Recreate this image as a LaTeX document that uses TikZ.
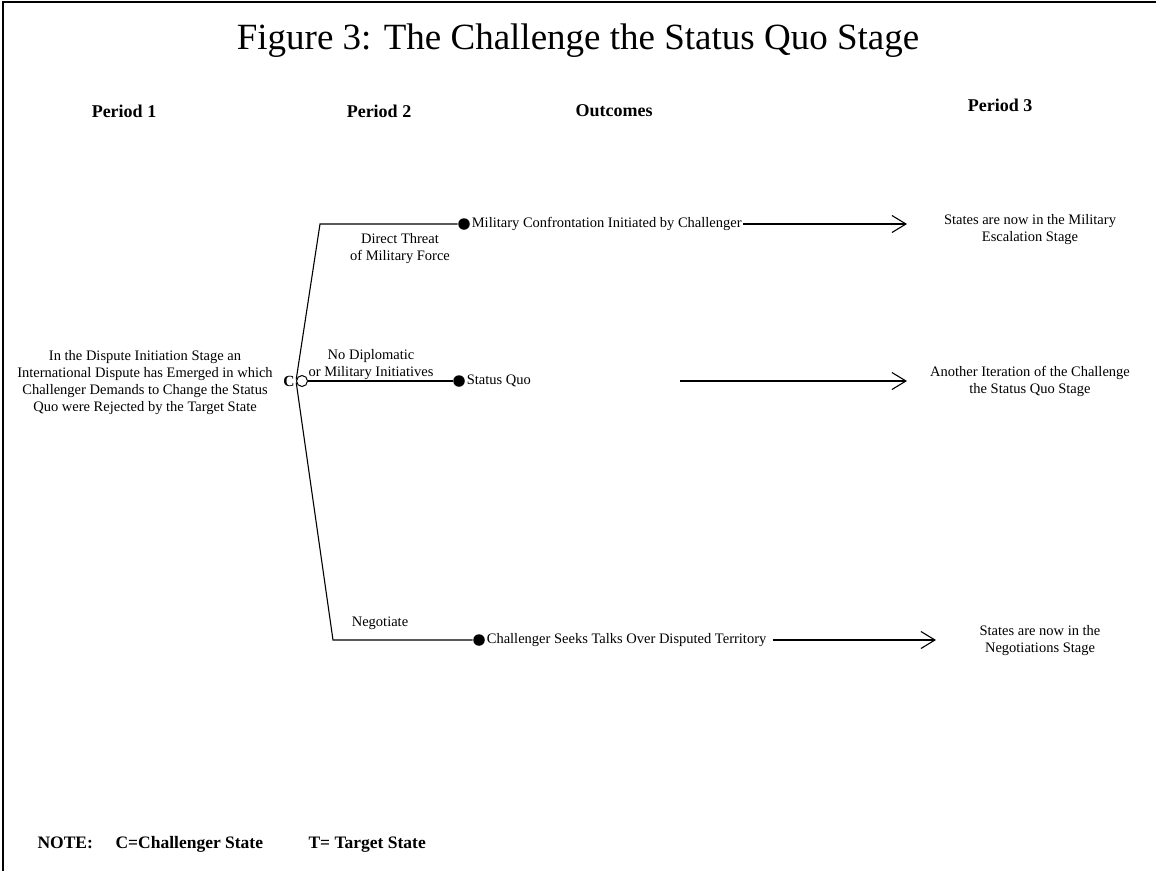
\documentclass[tikz,border=0pt]{standalone}
\usepackage{fontspec}
\setmainfont{Liberation Serif}
\usetikzlibrary{arrows.meta}
\tikzset{fctxt/.style={font=\fontsize{14.5}{17}\selectfont,align=center,inner sep=1pt},
  fchead/.style={font=\fontsize{18}{21}\selectfont\bfseries,inner sep=0pt},
  fcnote/.style={font=\fontsize{17.5}{20}\selectfont\bfseries,inner sep=0pt,anchor=base west},
  fcdot/.style={circle,fill,inner sep=0pt,minimum size=11.5pt},
  fcarrow/.style={-{Straight Barb[length=14pt,width=17pt]}}}

\begin{document}
\begin{tikzpicture}[x=1pt,y=-1pt,line width=1.1pt]
  \useasboundingbox (0,0) rectangle (1156,871);
  \draw [line width=2.5pt] (3,871) -- (3,2) -- (1156,2);

  \node [font=\fontsize{37}{40}\selectfont] (title) at (578,41) {Figure 3: The Challenge the Status Quo Stage};

  \node [fchead] (p1)  at (124,111) {Period 1};
  \node [fchead] (p2)  at (379,111) {Period 2};
  \node [fchead] (out) at (614,111) {Outcomes};
  \node [fchead] (p3)  at (1000,105) {Period 3};

  \coordinate (up) at (320,224);
  \coordinate (lo) at (333,640);

  \node [circle,draw,inner sep=0pt,minimum size=11pt,line width=1pt] (c) at (302,381) {};
  \node [fctxt,left,font=\fontsize{15.5}{17}\selectfont\bfseries] (cl) at (c.west) {C};
  \node [fctxt] (start) at (145,383) {In the Dispute Initiation Stage an\\International Dispute has Emerged in which\\Challenger Demands to Change the Status\\Quo were Rejected by the Target State};

  \node [fcdot] (dmil) at (464,224) {};
  \node [fcdot] (dsq)  at (459,381) {};
  \node [fcdot] (dneg) at (479,640) {};

  \draw (c.165) -- (up) -- (dmil);
  \draw (c) -- (dsq);
  \draw (c.195) -- (lo) -- (dneg);

  \node [fctxt] (thr) at (400,249) {Direct Threat\\of Military Force};
  \node [fctxt,above] (noi) at (371,381) {No Diplomatic\\or Military Initiatives};
  \node [fctxt] (ngt) at (380,623) {Negotiate};

  \node [fctxt,right] (mil) at (dmil.east) {Military Confrontation Initiated by Challenger};
  \node [fctxt,right] (sq)  at (dsq.east)  {Status Quo};
  \node [fctxt,right] (neg) at (dneg.east) {Challenger Seeks Talks Over Disputed Territory};

  \coordinate (sqa) at (680,381);
  \coordinate (tmil) at (907,224);
  \coordinate (tsq)  at (907,381);
  \coordinate (tneg) at (936,640);

  \draw [fcarrow] (mil.east) -- (mil.east -| tmil);
  \draw [fcarrow] (sqa) -- (tsq);
  \draw [fcarrow] ([xshift=5pt]neg.east) -- (neg.east -| tneg);

  \node [fctxt] (esc)  at (1030,230) {States are now in the Military\\Escalation Stage};
  \node [fctxt] (iter) at (1030,381) {Another Iteration of the Challenge\\the Status Quo Stage};
  \node [fctxt] (ngs)  at (1040,641) {States are now in the\\Negotiations Stage};

  \node [fcnote] (note) at (37,848)  {NOTE:};
  \node [fcnote] (cs)   at (115,848) {C=Challenger State};
  \node [fcnote] (ts)   at (308,848) {T= Target State};
\end{tikzpicture}
\end{document}
